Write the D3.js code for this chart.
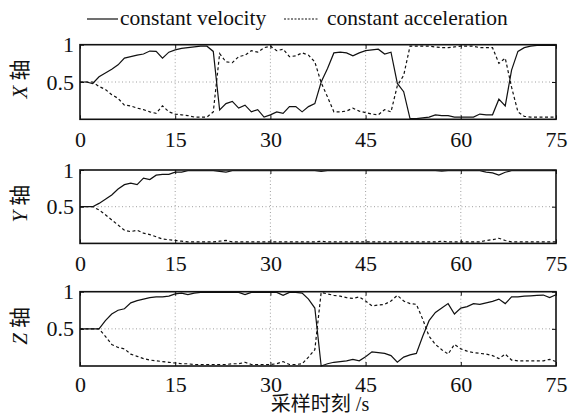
<!DOCTYPE html>
<html>
<head>
<meta charset="utf-8">
<script src="https://cdn.jsdelivr.net/npm/d3@7"></script>
<style>
  body { margin: 0; background: #fff; }
</style>
</head>
<body>
<div id="chart"></div>
<script>
    // sample times (s)
    var times = d3.range(0, 76);

    var xTicks = [0, 15, 30, 45, 60, 75];
    var yTicks = [0.5, 1];

    // X axis panel
    var xVel = [0.5, 0.5, 0.48, 0.57, 0.62, 0.67, 0.73, 0.82, 0.84, 0.86,
        0.875, 0.915, 0.91, 0.82, 0.9, 0.93, 0.95, 0.96, 0.97, 0.98,
        0.98, 0.91, 0.125, 0.21, 0.24, 0.15, 0.19, 0.1, 0.13, 0.03,
        0.06, 0.1, 0.08, 0.17, 0.17, 0.1, 0.17, 0.21, 0.5, 0.68,
        0.89, 0.9, 0.89, 0.85, 0.89, 0.92, 0.93, 0.94, 0.875, 0.9,
        0.48, 0.37, 0.01, 0.01, 0.02, 0.03, 0.06, 0.05, 0.05, 0.03,
        0.03, 0.03, 0.03, 0.07, 0.06, 0.06, 0.27, 0.18, 0.66, 0.91,
        0.96, 0.98, 0.99, 0.99, 0.99, 0.99];
    var xAcc = [0.5, 0.5, 0.5, 0.44, 0.4, 0.33, 0.28, 0.19, 0.18, 0.15,
        0.13, 0.1, 0.08, 0.18, 0.1, 0.07, 0.06, 0.05, 0.03, 0.03,
        0.03, 0.1, 0.88, 0.77, 0.76, 0.84, 0.86, 0.92, 0.9, 0.96,
        0.98, 0.92, 0.94, 0.84, 0.85, 0.89, 0.86, 0.77, 0.49, 0.3,
        0.1, 0.1, 0.11, 0.15, 0.11, 0.09, 0.07, 0.06, 0.13, 0.1,
        0.45, 0.59, 0.98, 0.98, 0.98, 0.98, 0.97, 0.96, 0.96, 0.97,
        0.98, 0.98, 0.98, 0.96, 0.96, 0.96, 0.75, 0.82, 0.43, 0.1,
        0.04, 0.03, 0.03, 0.03, 0.03, 0.03];

    // Y axis panel
    var yVel = [0.5, 0.5, 0.5, 0.545, 0.6, 0.66, 0.74, 0.8, 0.82, 0.8,
        0.89, 0.87, 0.93, 0.94, 0.94, 0.97, 0.97, 0.99, 0.99, 0.99,
        0.99, 0.99, 0.98, 0.97, 0.99, 0.99, 0.99, 0.99, 0.99, 0.99,
        0.99, 0.99, 0.99, 0.99, 0.99, 0.99, 0.99, 0.99, 0.98, 0.99,
        0.99, 0.99, 0.99, 0.99, 0.99, 0.99, 0.99, 0.99, 0.99, 0.99,
        0.99, 0.99, 0.99, 0.99, 0.99, 0.99, 0.99, 0.985, 0.99, 0.99,
        0.99, 0.99, 0.99, 0.99, 0.97, 0.96, 0.93, 0.97, 0.99, 0.99,
        0.99, 0.99, 0.99, 0.99, 0.99, 0.99];
    var yAcc = [0.5, 0.5, 0.5, 0.455, 0.39, 0.32, 0.25, 0.18, 0.16, 0.18,
        0.14, 0.12, 0.09, 0.06, 0.05, 0.04, 0.03, 0.02, 0.02, 0.02,
        0.02, 0.02, 0.03, 0.04, 0.02, 0.02, 0.02, 0.02, 0.02, 0.02,
        0.02, 0.02, 0.02, 0.02, 0.02, 0.02, 0.02, 0.02, 0.03, 0.02,
        0.02, 0.02, 0.02, 0.02, 0.02, 0.02, 0.02, 0.02, 0.02, 0.02,
        0.02, 0.02, 0.02, 0.02, 0.02, 0.02, 0.02, 0.03, 0.02, 0.02,
        0.02, 0.02, 0.02, 0.02, 0.04, 0.05, 0.07, 0.04, 0.02, 0.02,
        0.02, 0.02, 0.02, 0.02, 0.02, 0.02];

    // Z axis panel
    var zVel = [0.5, 0.5, 0.5, 0.5, 0.61, 0.7, 0.75, 0.77, 0.85, 0.88,
        0.9, 0.92, 0.93, 0.93, 0.94, 0.97, 0.98, 0.96, 0.98, 0.99,
        0.99, 0.99, 0.99, 0.99, 0.99, 0.99, 0.96, 0.99, 0.99, 0.99,
        0.99, 0.99, 0.95, 0.99, 0.99, 0.98, 0.9, 0.78, 0.0, 0.03,
        0.05, 0.06, 0.07, 0.09, 0.07, 0.125, 0.19, 0.18, 0.17, 0.14,
        0.05, 0.12, 0.15, 0.17, 0.4, 0.61, 0.72, 0.78, 0.84, 0.7,
        0.78, 0.8, 0.84, 0.83, 0.85, 0.87, 0.9, 0.84, 0.93, 0.93,
        0.94, 0.945, 0.95, 0.955, 0.92, 0.96];
    var zAcc = [0.5, 0.5, 0.5, 0.5, 0.4, 0.29, 0.25, 0.23, 0.16, 0.13,
        0.1, 0.08, 0.07, 0.06, 0.05, 0.04, 0.03, 0.03, 0.02, 0.02,
        0.02, 0.02, 0.02, 0.02, 0.03, 0.03, 0.05, 0.02, 0.02, 0.02,
        0.02, 0.03, 0.06, 0.02, 0.02, 0.03, 0.12, 0.22, 0.99, 0.97,
        0.95, 0.94, 0.92, 0.91, 0.93, 0.875, 0.81, 0.82, 0.83, 0.875,
        0.95, 0.875, 0.84, 0.83, 0.63, 0.4, 0.29, 0.22, 0.16, 0.29,
        0.23, 0.2, 0.18, 0.17, 0.16, 0.14, 0.1, 0.16, 0.08, 0.07,
        0.07, 0.07, 0.07, 0.07, 0.09, 0.06];

    var panels = [
        { axis: 'X', vel: xVel, acc: xAcc, top: 44.7, bottom: 119.3 },
        { axis: 'Y', vel: yVel, acc: yAcc, top: 170, bottom: 243.4 },
        { axis: 'Z', vel: zVel, acc: zAcc, top: 291.7, bottom: 366 }
    ];

    var serif = "'Liberation Serif'";
    var cjk = "'Noto Sans CJK SC'";

    var width = 569, height = 416;
    var left = 80, right = 556;

    var svg = d3.select('#chart').append('svg')
        .attr('width', width)
        .attr('height', height);

    var xScale = d3.scaleLinear()
        .domain([0, 75])
        .range([left, right]);

    panels.forEach(function(p, pi) {
        var yScale = d3.scaleLinear()
            .domain([0, 1])
            .range([p.bottom, p.top]);

        var g = svg.append('g');

        // dotted grid
        g.selectAll('.vgrid')
            .data(xTicks.filter(function(d) { return d > 0 && d < 75; }))
            .enter().append('line')
                .attr('x1', function(d) { return xScale(d); })
                .attr('x2', function(d) { return xScale(d); })
                .attr('y1', p.top)
                .attr('y2', p.bottom)
                .style('stroke', '#888')
                .style('stroke-width', 0.8)
                .style('stroke-dasharray', '1,2.5');
        g.append('line')
            .attr('x1', left)
            .attr('x2', right)
            .attr('y1', yScale(0.5))
            .attr('y2', yScale(0.5))
            .style('stroke', '#888')
            .style('stroke-width', 0.8)
            .style('stroke-dasharray', '1,2.5');

        var line = d3.line()
            .x(function(d, i) { return xScale(times[i]); })
            .y(function(d) { return yScale(d); });

        g.append('path')
            .attr('d', line(p.vel))
            .style('fill', 'none')
            .style('stroke', '#111')
            .style('stroke-width', 1.2);
        g.append('path')
            .attr('d', line(p.acc))
            .style('fill', 'none')
            .style('stroke', '#111')
            .style('stroke-width', 1.2)
            .style('stroke-dasharray', '3,2.5');

        // inward ticks
        var bAxis = d3.axisBottom(xScale).tickValues(xTicks).tickSize(-4).tickPadding(7)
            .tickFormat(d3.format('d'));
        var bGuide = g.append('g').attr('transform', 'translate(0,' + p.bottom + ')');
        bAxis(bGuide);
        var tAxis = d3.axisTop(xScale).tickValues(xTicks).tickSize(-4).tickFormat('');
        var tGuide = g.append('g').attr('transform', 'translate(0,' + p.top + ')');
        tAxis(tGuide);
        var lAxis = d3.axisLeft(yScale).tickValues(yTicks).tickSize(-4).tickPadding(6)
            .tickFormat(function(d) { return d === 1 ? '1' : d; });
        var lGuide = g.append('g').attr('transform', 'translate(' + left + ',0)');
        lAxis(lGuide);
        var rAxis = d3.axisRight(yScale).tickValues(yTicks).tickSize(-4).tickFormat('');
        var rGuide = g.append('g').attr('transform', 'translate(' + right + ',0)');
        rAxis(rGuide);

        [bGuide, tGuide, lGuide, rGuide].forEach(function(ax) {
            ax.attr('font-family', 'Liberation Serif').attr('font-size', 22);
            ax.select('.domain').remove();
            ax.selectAll('line').style('stroke', '#111').style('stroke-width', 1);
            ax.selectAll('text')
                .style('font-family', serif)
                .style('font-size', '22px')
                .style('fill', '#111');
        });
        bGuide.selectAll('text').attr('dy', pi === 2 ? '0.85em' : '0.93em');

        // frame
        g.append('rect')
            .attr('x', left)
            .attr('y', p.top)
            .attr('width', right - left)
            .attr('height', p.bottom - p.top)
            .style('fill', 'none')
            .style('stroke', '#111')
            .style('stroke-width', 1.6);

        // y label
        var lab = svg.append('text')
            .attr('transform', 'translate(27,' + ((p.top + p.bottom) / 2 - 3) + ') rotate(-90)')
            .attr('text-anchor', 'middle')
            .style('font-size', '21px')
            .style('fill', '#111');
        lab.append('tspan').style('font-family', serif).style('font-style', 'italic').text(p.axis);
        lab.append('tspan').style('font-family', cjk).attr('dx', 5).text('轴');
    });

    // x label
    var xl = svg.append('text')
        .attr('x', 320)
        .attr('y', 411)
        .attr('text-anchor', 'middle')
        .style('font-size', '20px')
        .style('fill', '#111');
    xl.append('tspan').style('font-family', cjk).text('采样时刻');
    xl.append('tspan').style('font-family', serif).text(' /s');

    // legend
    var legend = svg.append('g');
    legend.append('line')
        .attr('x1', 87).attr('x2', 118).attr('y1', 19).attr('y2', 19)
        .style('stroke', '#111').style('stroke-width', 1.2);
    legend.append('text')
        .attr('x', 120).attr('y', 25)
        .style('font-family', serif)
        .style('font-size', '21.5px')
        .style('fill', '#111')
        .text('constant velocity');
    legend.append('line')
        .attr('x1', 284).attr('x2', 318).attr('y1', 19).attr('y2', 19)
        .style('stroke', '#111').style('stroke-width', 1.2)
        .style('stroke-dasharray', '2,1.5');
    legend.append('text')
        .attr('x', 327).attr('y', 25)
        .style('font-family', serif)
        .style('font-size', '21.5px')
        .style('fill', '#111')
        .text('constant acceleration');
</script>
</body>
</html>
